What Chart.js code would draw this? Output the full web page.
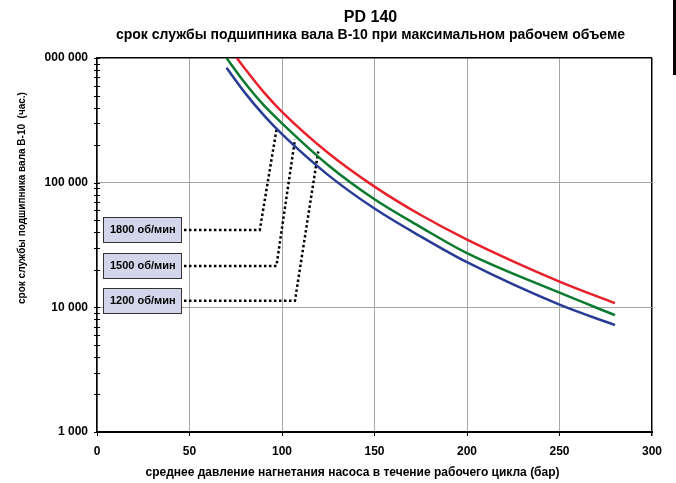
<!DOCTYPE html>
<html>
<head>
<meta charset="utf-8">
<script src="https://cdn.jsdelivr.net/npm/chart.js@4/dist/chart.umd.min.js"></script>
<style>
  html, body { margin: 0; padding: 0; background: #fff; }
  #wrap { position: relative; width: 676px; height: 483px; }
  #edge { position: absolute; left: 673px; top: 0; width: 3px; height: 75px; background: #000; }
</style>
</head>
<body>
<div id="wrap">
  <canvas id="chart" width="676" height="483"></canvas>
  <div id="edge"></div>
</div>
<script>
// pressure (bar) and B-10 bearing life (hours)
var pressure = [70, 80, 90, 100, 125, 150, 175, 200, 250, 280];
var life1200 = [1290000, 820000, 535000, 370000, 173000, 93000, 55000, 35000, 16100, 10800];
var life1500 = [1000000, 630000, 420000, 299000, 138000, 73600, 44000, 27200, 13100, 8650];
var life1800 = [835000, 525000, 350000, 245000, 115000, 62000, 37000, 23000, 10500, 7200];

// leader lines from the rpm boxes to the curves
var rpmLabels = ['1800 об/мин', '1500 об/мин', '1200 об/мин'];
var leaderX = [[47, 88, 97], [47, 97, 107], [47, 107, 119.6]];
var leaderY = [[41800, 41800, 265000], [21500, 21500, 222000], [11300, 11300, 178000]];

var xTicks = [0, 50, 100, 150, 200, 250, 300];
var yTicks = [1000, 10000, 100000, 1000000];
var yTickLabels = ['1 000', '10 000', '100 000', '000 000']; // top label is cut off in the original

var FONT = "'Liberation Sans', Arial, sans-serif";

function pts(xs, ys) {
  return xs.map(function (x, i) { return { x: x, y: ys[i] }; });
}

var datasets = [
  { data: pts(pressure, life1200), borderColor: '#e8202a' },
  { data: pts(pressure, life1500), borderColor: '#0a7a2e' },
  { data: pts(pressure, life1800), borderColor: '#283c96' }
].map(function (d) {
  d.borderWidth = 2.5;
  d.pointRadius = 0;
  d.showLine = true;
  d.cubicInterpolationMode = 'monotone';
  return d;
});

leaderX.forEach(function (xs, i) {
  datasets.push({
    data: pts(xs, leaderY[i]),
    borderColor: '#000',
    borderWidth: 2.5,
    borderDash: [2.5, 2.5],
    pointRadius: 0,
    showLine: true,
    tension: 0
  });
});

var extras = {
  id: 'extras',
  afterDraw: function (chart) {
    var ctx = chart.ctx;
    var area = chart.chartArea;
    var xs = chart.scales.x, ys = chart.scales.y;
    ctx.save();

    // y axis minor ticks crossing the axis
    ctx.strokeStyle = '#000';
    ctx.lineWidth = 1;
    for (var d = 1000; d <= 100000; d *= 10) {
      for (var m = 1; m <= 10; m++) {
        var py = Math.round(ys.getPixelForValue(d * m)) + 0.5;
        ctx.beginPath();
        ctx.moveTo(area.left - 3, py);
        ctx.lineTo(area.left + 3, py);
        ctx.stroke();
      }
    }

    // rpm boxes
    ctx.font = 'bold 11px ' + FONT;
    ctx.textBaseline = 'middle';
    ctx.textAlign = 'left';
    rpmLabels.forEach(function (label, i) {
      var right = Math.round(xs.getPixelForValue(leaderX[i][0])) - 2;
      var cy = Math.round(ys.getPixelForValue(leaderY[i][0]));
      var w = 79, h = 26;
      ctx.fillStyle = '#d3d5ea';
      ctx.fillRect(right - w, cy - h / 2, w, h);
      ctx.strokeStyle = '#333';
      ctx.lineWidth = 1;
      ctx.strokeRect(right - w + 0.5, cy - h / 2 + 0.5, w - 1, h - 1);
      ctx.fillStyle = '#000';
      ctx.fillText(label, right - w + 7, cy);
    });

    // titles
    var cx = (area.left + area.right) / 2 - 4;
    ctx.textAlign = 'center';
    ctx.textBaseline = 'alphabetic';
    ctx.fillStyle = '#000';
    ctx.font = 'bold 16px ' + FONT;
    ctx.fillText('PD 140', cx, 22);
    ctx.font = 'bold 14px ' + FONT;
    ctx.fillText('срок службы подшипника вала B-10 при максимальном рабочем объеме', cx, 39);

    // axis titles
    ctx.textBaseline = 'middle';
    ctx.font = 'bold 12px ' + FONT;
    ctx.fillText('среднее давление нагнетания насоса в течение рабочего цикла (бар)', cx - 18, 473);
    ctx.translate(22, 198);
    ctx.rotate(-Math.PI / 2);
    ctx.font = 'bold 10px ' + FONT;
    ctx.fillText('срок службы подшипника вала B-10  (час.)', 0, 0);
    ctx.restore();
  }
};

new Chart(document.getElementById('chart'), {
  type: 'scatter',
  data: { datasets: datasets },
  plugins: [extras],
  options: {
    responsive: false,
    animation: false,
    devicePixelRatio: 1,
    layout: { padding: { top: 58, right: 24, left: 0, bottom: 0 } },
    plugins: { legend: { display: false }, tooltip: { enabled: false } },
    scales: {
      x: {
        type: 'linear',
        min: 0,
        max: 300,
        afterBuildTicks: function (scale) {
          scale.ticks = xTicks.map(function (v) { return { value: v }; });
        },
        afterFit: function (scale) { scale.height = 51; },
        ticks: { color: '#000', font: { family: FONT, size: 12, weight: 'bold' }, padding: 8, maxRotation: 0 },
        grid: {
          color: function (c) { return c.tick && c.tick.value === 300 ? '#000' : '#a6a6a6'; },
          lineWidth: function (c) { return c.tick && c.tick.value === 300 ? 1.5 : 1; },
          tickColor: '#000',
          tickLength: 4
        },
        border: { color: '#000', width: 2 }
      },
      y: {
        type: 'logarithmic',
        min: 1000,
        max: 1000000,
        afterBuildTicks: function (scale) {
          scale.ticks = yTicks.map(function (v) { return { value: v, major: true }; });
        },
        afterFit: function (scale) { scale.width = 97; },
        ticks: {
          color: '#000',
          font: { family: FONT, size: 12, weight: 'bold' },
          padding: 9,
          callback: function (v, i) { return yTickLabels[i]; }
        },
        grid: {
          color: function (c) { return c.tick && c.tick.value === 1000000 ? '#000' : '#a6a6a6'; },
          lineWidth: function (c) { return c.tick && c.tick.value === 1000000 ? 1.5 : 1; },
          drawTicks: false
        },
        border: { color: '#000', width: 1.5 }
      }
    }
  }
});
</script>
</body>
</html>
